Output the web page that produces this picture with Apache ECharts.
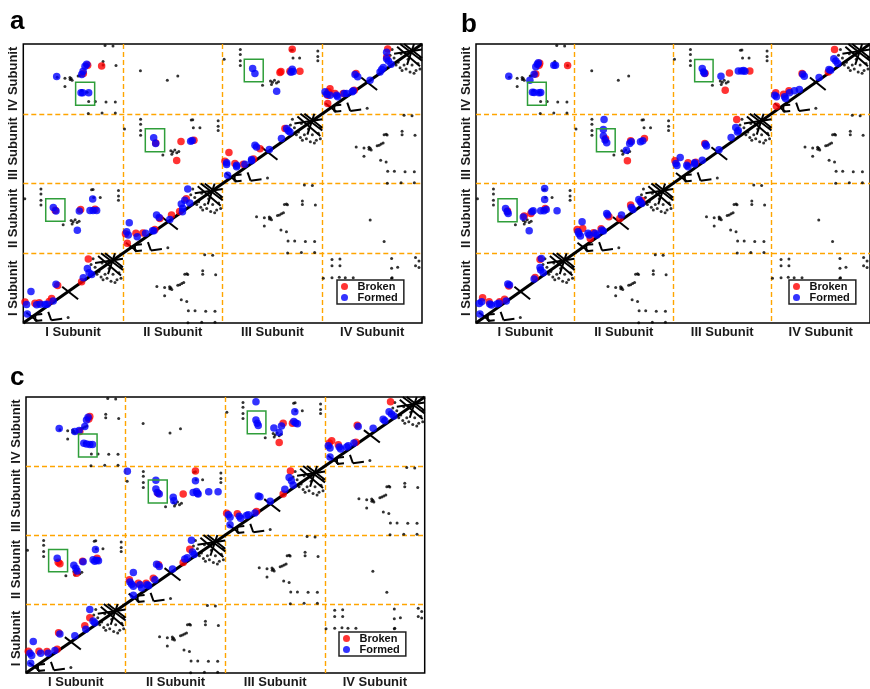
<!DOCTYPE html>
<html><head><meta charset="utf-8">
<script src="https://cdn.jsdelivr.net/npm/echarts@6/dist/echarts.min.js"></script>
<style>html,body{margin:0;padding:0;background:#fff}#c{width:870px;height:689px}</style>
</head><body><div id="c"></div>
<script>
const SUBUNITS = ['I Subunit','II Subunit','III Subunit','IV Subunit'];
const PANEL_LABELS = ['a','b','c'];
const LEGEND_NAMES = ['Broken','Formed'];

// ---------- native contacts (black), block-relative residue coords (0-100) ----------
const MAIN_DIAGONAL = [[0,0,400,400]];
const INTRA_SEGMENTS = [[3,15,14,3],[12,12,19,13],[12,12,12,3],[12,3,19,4],[25,16,28,4],[28,4,39,6],[39,52,55,34],
  [75,96,98,68],[82,100,100,80],[72,86,100,92],[85,70,92,100],[78,100,100,76]];
const INTRA_DOTS = [[45,8],[72,80],[74,70],[78,66],[80,62],[84,64],[88,60],[90,70],[94,62],[98,64],[86,78],[70,92],
  [76,74],[92,58],[82,70],[96,72],[79,86],[88,88],[98,80],[68,84]];
const IFACE_P = [[34,52.5],[41.8,51],[47,49],[48,50.5],[49,48],[41.8,39],[57,55],[59,56.5],[61,58],[62,70],[64,70.5],
  [65,69.5],[58.5,33.5],[64,31],[80,75],[80,70],[93,69],[82,98],[90,97],[65.6,17.5],[72.3,17.5],[83,17],[92.3,17],
  [79,1],[92.3,1],[65.2,0.4],[55,54],[46.8,52]];
const IFACE_Q = [[17.7,92],[17.7,85],[17.7,76],[17.7,69],[1.5,78],[40,41],[48,47],[50,45],[52,48],[54,44],[56,46],
  [49,42],[70,91.5],[70.6,80],[77.2,80],[95.5,90],[95.5,82],[95.5,76],[68.5,91]];
const IFACE_Q_IV_I = [[1,64],[9.7,91],[9.7,82],[9.7,65],[17.7,91.6],[17.7,82],[17,65.5],[23,65],[31,65],[69.5,92.6],
  [69.5,78.5],[75.6,80],[69.5,64],[70,65],[97,89],[97,79.6],[93.5,94],[93.5,82]];
const FAR_UP = [[17.5,61.5],[44.5,48],[55,54]];
const FAR_LOW = [[48,47.5],[62,17]];

// ---------- panel a (global residue coords 0-400) ----------
const A_FORMED = [[7.7,45],[3.3,26.7],[4,13],[13.4,26],[17,27],[21.8,26.7],[24,27],[30,31.6],[32.8,55.4],[60.2,64.9],[64.3,78.3],[68.6,69.7],[66,72],
  [165,192],[162,176],[167,172],[158.5,170.5],[159.7,159.5],[160,164.6],[147,148.5],[133.7,154.7],[136.3,151.4],[106.3,143.8],[103.7,130.9],[105.3,126],[114.3,123.7],[122.7,128.5],[129.7,132.3],[131,132.3],
  [204,229.6],[204,227.2],[205,212],[214,226],[214,224],[222.4,227.7],[229,232.5],[229,234.4],[232.4,255],[234,252.5],[246.8,248.7],[259,264.5],[264.2,278.8],[265.9,275.5],[267.5,274],
  [302.7,331.4],[304.4,328],[307.7,326.6],[314.4,326.6],[315.4,324.2],[322,329],[324.4,329],[330.1,331.4],[331,332.8],[332.8,356.2],[335.5,352.9],[347.9,348],[357.9,360],[359.6,363.4],[361.2,366.3],[364.5,379],[366.3,375.8],[369,371],[364.5,388],
  [30.1,165.7],[32.8,160.7],[56.2,160.7],[69.6,177.6],[66.9,161.3],[70,161.3],[73.6,161.3],[54.2,132.8],
  [57.9,330],[59.6,330],[65.6,330],[33.5,353.4],[58.6,356.3],[61.9,368.2],[63.6,371],[60,361],
  [130.8,265.5],[132.8,257.4],[167.9,260.6],[169.5,261.5],
  [230.1,364.9],[232.4,357.7],[269.8,363.9],[270.8,360.6],[268.5,359.6],[254.2,332.4]];
const A_BROKEN = [[1.7,30],[11.7,28.4],[16,29],[26,31],[28.4,35],[34.5,53.6],[58.5,59.2],[65.2,91.7],
  [163.5,178],[156.8,160],[148.7,154.7],[137,150],[104.3,114.2],[102.5,128],[113,128.5],[120,129],[132,134],
  [206.3,244.4],[202.3,232],[212.3,228.7],[220.7,227.7],[231,235],[237.5,250],[262.5,278.8],
  [307.7,336],[306,331.4],[305.4,326.6],[305.4,314.7],[312.7,329],[321,329],[332,333.8],[333.8,357.7],[365.6,393],[364.6,381.3],
  [32,161.6],[57.5,162.6],[72,163],
  [60.2,357.7],[64.6,369.6],[78.6,368.6],
  [132.8,258],[158.2,260.3],[171.2,262],[153.9,233],
  [269.8,392.5],[257.5,359.2],[258.5,360.5],[277.5,361],[267.5,361]];
const A_BOXES = [[22.5,145.7,41.8,178],[52.5,312.3,71.6,345.3],[122.4,245.4,141.8,278.4],[221.7,345.7,240.7,378.2]];

// ---------- panel b ----------
const B_FORMED = [[4,12.9],[3.3,28],[5.7,30.6],[14,27.2],[15.7,25.8],[21.3,27.2],[23.3,28.2],[30.7,31.5],[32.3,55.9],[34,54.4],[59,63],[65,79.7],[65.7,75.9],[66.3,92.6],[68.3,72.1],
  [107.7,145.2],[103.7,130.9],[104.5,128],[106,124.6],[113.7,128.5],[115,126],[121,128.5],[122.7,126],[127.7,133.2],[129.3,131.8],[133.7,154.7],[132.7,157],[147.7,154.7],[157.7,165.7],[159.3,162.9],[165.3,177.2],[166.8,174],[168.3,171.4],
  [207.3,237.3],[203,228.7],[204,225.9],[214,226.3],[215.3,224],[222,227.8],[222,229.7],[229.7,233.5],[233,256.4],[234,253.6],[246.7,248.5],[259,266],[263.7,280.2],[266.3,276],[265.5,274],
  [303.3,326.7],[305,324.3],[313.3,324.3],[314.3,321.9],[318.3,330],[323.3,332.9],[328.3,334.8],[331.7,356.6],[333.3,353.9],[348.3,352],[358.3,363.4],[360,362.4],[363.3,379],[365.3,375.5],[367.3,372],
  [30,164.3],[31.7,159.5],[32.7,157.1],[56.7,159.5],[58,160.9],[65.7,160.9],[69,160.9],[71.3,162.7],[69.7,177.2],[69.7,192.9],[82.3,160.9],[54,132.2],[48,152],
  [57.3,331],[59,330.5],[64,330],[65.7,330.5],[33.3,353.9],[54.7,348.1],[59,356.7],[60.7,367.3],[62.3,371],[63.3,373],[79,369.7],[80.7,369.7],
  [130,291.8],[129.3,277.5],[129.3,268],[131,262.2],[132.7,258.4],[152.7,247.8],[156,257.4],[157.7,259.7],[167,259.7],[169.3,261.2],
  [229.7,364.8],[231,360],[232,357.7],[248.7,353.9],[266.3,361.4],[269.7,361.4],[273,361],[271.5,362]];
const B_BROKEN = [[6.7,36.3],[13.3,30.6],[24,30.6],[29,33.9],[33.3,53],[60,65.4],[65,91.2],
  [108.3,135.6],[102.7,134.2],[116,121.3],[119.3,129.4],[127,135],[135,152.3],[146,150],[157,169.1],[168.3,175.5],
  [202,232.6],[215.3,229.7],[223,230.6],[232.3,257.3],[264.7,291.8],
  [304.3,330],[305,310.9],[312.3,328],[317.7,332.9],[331,357.6],[357.7,360],[364,392.1],
  [32,160.5],[49,153.5],[55.7,157.1],[70.3,164.3],
  [60.7,357],[64,369.7],[64.7,372.5],[93,369.1],
  [131.5,264],[153.7,232.6],[157,261.2],[171,264.6],
  [232.5,358],[257.3,358.6],[253,333.8],[278,361.4]];
const B_BOXES = [[22.3,145,41.7,178.1],[52.3,312.3,71.3,345.3],[122.3,245.4,141.3,278.4],[222,345.7,240.7,377.7]];

// ---------- panel c ----------
const C_FORMED = [[4.7,14.3],[7.3,45.8],[4,28.7],[5.7,25.3],[14.7,28.7],[22.3,28.7],[29,32.5],[34,56.4],[49,54],[60,63.5],[64,92.2],[67.3,75.5],[69,73],
  [107.7,145.6],[104.3,131.8],[106,128.5],[107.7,125.6],[114.3,128],[116,123.2],[121.5,128],[123,126.5],[129.3,135.1],[131,157.6],[133.7,154.2],[147,150.9],[159.3,165.2],[161.7,167.2],[166,192.4],[167,175.4],[168.7,171.6],[107.7,112.7],
  [204.7,214.9],[203,229.2],[204.7,225.9],[214,227.3],[215.3,224.4],[221.3,228.2],[223,229.2],[229.7,232],[233,256.5],[234.7,255.5],[245,249],[259.7,266.4],[264,283.3],[266.3,278.5],[268,272.3],
  [305,313.2],[303.3,329.5],[305,326.2],[314.3,327.6],[315.7,324.7],[321.7,327.6],[323.3,329.5],[329,333.3],[333.3,357.2],[348.3,354.8],[358.3,367.7],[360,365.7],[364.3,378.7],[366.7,375.4],[369,372.5],
  [31.3,166.2],[48,156.1],[50,151.9],[51.3,148],[57.3,161.4],[67.3,164],[69,162],[71,163.5],[72.7,162.7],[69.7,178.9],
  [58,333],[60.7,332],[64,331],[66.7,331],[33.3,354.3],[49,350],[53.3,351.5],[59,357.2],[60.7,366.8],[62.3,370.6],
  [101.7,292.3],[130.3,279.4],[130.3,266.5],[131.7,261.7],[133.7,259.3],[147.7,254.6],[148.3,249.8],[167.7,261.7],[171,263],[172,260.5],[172.7,259.3],[170,278.5],[183.3,262.7],[192.7,262.7],
  [230.7,393],[230.7,366.8],[232,362],[233,358.6],[248.7,355],[254,348.6],[256.3,358.1],[268.7,364.4],[270.5,362.5],[272.3,361.1],[269.7,378.7]];
const C_BROKEN = [[2.3,31.5],[13,31.5],[21,31],[31.3,34.4],[32.7,58.3],[59,68.3],[64,80.2],
  [103.7,135.1],[112.7,129.9],[120.5,130],[127.7,137.5],[133,157],[157.7,160],[164.3,179.5],
  [201.3,231.6],[212,230.7],[231.3,234],[258,259.5],[265.3,292.8],
  [306.7,336.6],[304.3,333.3],[313.3,330.9],[331,334.5],[332.3,359],[365.7,393],
  [32.3,160.4],[34,158.5],[50.7,144.7],[56.7,162],[71.3,166.2],
  [54,350],[64,371.6],[63,368],
  [132.5,260.5],[157.7,259.3],[170,292.8],
  [258,361.9],[254,334.2],[267.3,362]];
const C_BOXES = [[22.7,146.6,41.7,179.1],[52.7,313.1,71.3,346.2],[122.7,246.4,141.7,279.8],[222,346.6,240.7,379.6]];

const PANELS = [
  {formed:A_FORMED, broken:A_BROKEN, boxes:A_BOXES},
  {formed:B_FORMED, broken:B_BROKEN, boxes:B_BOXES},
  {formed:C_FORMED, broken:C_BROKEN, boxes:C_BOXES}
];

// ---------- layout ----------
const FONT = '"Liberation Sans", Arial, sans-serif';
const GRIDS = [
  {left:23.3, top:44, width:398.7, height:279},
  {left:476, top:44, width:398.7, height:279},
  {left:26, top:397, width:398.7, height:279}
];
const LEGEND_POS = [{left:337, top:280},{left:789, top:280},{left:339, top:632}];
const LETTER_POS = [[10,22],[461,25],[10,378]];

function place(list, bx, by){ return list.map(p => [bx*100 + p[0], by*100 + p[1]]); }
function placeSeg(list, bx, by){ return list.map(s => [bx*100+s[0], by*100+s[1], bx*100+s[2], by*100+s[3]]); }

const black = [].concat(
  place(INTRA_DOTS,0,0), place(INTRA_DOTS,1,1), place(INTRA_DOTS,2,2), place(INTRA_DOTS,3,3),
  place(IFACE_P,1,0), place(IFACE_P,2,1), place(IFACE_P,3,2), place(IFACE_P,0,3),
  place(IFACE_Q,0,1), place(IFACE_Q,1,2), place(IFACE_Q,2,3), place(IFACE_Q_IV_I,3,0),
  place(FAR_UP,1,3), place(FAR_LOW,3,1)
);
const segs = [].concat(placeSeg(INTRA_SEGMENTS,0,0), placeSeg(INTRA_SEGMENTS,1,1), placeSeg(INTRA_SEGMENTS,2,2), placeSeg(INTRA_SEGMENTS,3,3));

function segRenderer(width){
  return function(params, api){
    const a = api.coord([api.value(0), api.value(1)]);
    const b = api.coord([api.value(2), api.value(3)]);
    return {type:'line', shape:{x1:a[0], y1:a[1], x2:b[0], y2:b[1]}, style:{stroke:'#000', lineWidth:width, lineCap:'butt'}};
  };
}
function boxRenderer(params, api){
  const a = api.coord([api.value(0), api.value(3)]);
  const b = api.coord([api.value(2), api.value(1)]);
  return {type:'rect', shape:{x:a[0], y:a[1], width:b[0]-a[0], height:b[1]-a[1]}, style:{fill:'none', stroke:'#2f9e3a', lineWidth:1.5}};
}

const option = {animation:false, backgroundColor:'#fff', grid:[], xAxis:[], yAxis:[], series:[], legend:[], graphic:[]};
const labelStyle = {fontSize:13, fontWeight:'bold', color:'#1a1a1a', fontFamily:FONT, interval:0};
const split = {show:true, showMinLine:false, showMaxLine:false, lineStyle:{color:'#FFA500', type:[5,3], width:1.4}};

GRIDS.forEach((g, i) => {
  option.grid.push(Object.assign({show:true, borderColor:'#000', borderWidth:1.5, backgroundColor:'transparent'}, g));
  option.xAxis.push({type:'value', gridIndex:i, min:0, max:400, interval:100, axisLine:{show:false}, axisTick:{show:false}, axisLabel:{show:false}, splitLine:split});
  option.xAxis.push({type:'category', gridIndex:i, data:SUBUNITS, position:'bottom', axisLine:{show:false}, axisTick:{show:false}, splitLine:{show:false}, axisLabel:Object.assign({margin:3}, labelStyle)});
  option.yAxis.push({type:'value', gridIndex:i, min:0, max:400, interval:100, position:'left', axisLine:{show:false}, axisTick:{show:false}, axisLabel:{show:false}, splitLine:split});
  option.yAxis.push({type:'category', gridIndex:i, data:SUBUNITS, position:'left', axisLine:{show:false}, axisTick:{show:false}, splitLine:{show:false}, axisLabel:Object.assign({margin:3, rotate:90}, labelStyle)});
  const xi = 2*i, yi = 2*i;
  const P = PANELS[i];
  option.series.push({type:'custom', name:'diag', xAxisIndex:xi, yAxisIndex:yi, data:MAIN_DIAGONAL, encode:{x:[0,2], y:[1,3]}, renderItem:segRenderer(3), z:2, silent:true});
  option.series.push({type:'custom', name:'native-seg', xAxisIndex:xi, yAxisIndex:yi, data:segs, encode:{x:[0,2], y:[1,3]}, renderItem:segRenderer(2), z:2, silent:true});
  option.series.push({type:'scatter', name:'native', xAxisIndex:xi, yAxisIndex:yi, data:black, symbolSize:3, itemStyle:{color:'#000'}, z:3, silent:true});
  option.series.push({type:'scatter', name:'Broken', xAxisIndex:xi, yAxisIndex:yi, data:P.broken, symbolSize:7.5, itemStyle:{color:'#ff0000'}, z:4});
  option.series.push({type:'scatter', name:'Formed', xAxisIndex:xi, yAxisIndex:yi, data:P.formed, symbolSize:7.5, itemStyle:{color:'#0000ff'}, z:5});
  option.series.push({type:'custom', name:'box', xAxisIndex:xi, yAxisIndex:yi, data:P.boxes, encode:{x:[0,2], y:[1,3]}, renderItem:boxRenderer, z:6, silent:true});
  option.legend.push({left:LEGEND_POS[i].left, top:LEGEND_POS[i].top, orient:'vertical', data:LEGEND_NAMES, icon:'circle',
    itemWidth:16, itemHeight:7, itemGap:0, padding:[1,6,1,4], borderColor:'#222', borderWidth:1.5, backgroundColor:'#fff',
    textStyle:{fontSize:11, fontWeight:'bold', color:'#111', fontFamily:FONT}, selectedMode:false, z:10});
  option.graphic.push({type:'text', x:LETTER_POS[i][0], y:LETTER_POS[i][1], style:{text:PANEL_LABELS[i], font:'bold 26px "Liberation Sans", Arial', fill:'#000', verticalAlign:'middle'}});
});

const chart = echarts.init(document.getElementById('c'), null, {renderer:'canvas'});
chart.setOption(option);
</script></body></html>
